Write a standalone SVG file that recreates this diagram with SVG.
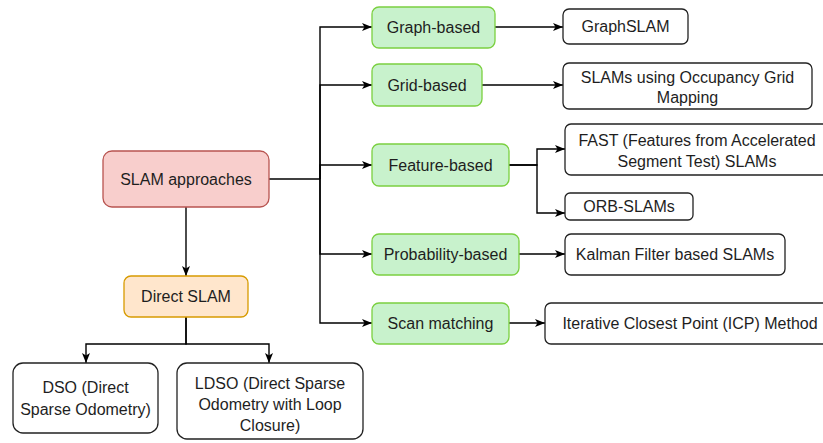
<svg xmlns="http://www.w3.org/2000/svg" width="823" height="443" viewBox="0 0 823 443">
<defs>
<marker id="arr" markerUnits="userSpaceOnUse" markerWidth="10" markerHeight="10" viewBox="0 0 10 10" refX="10" refY="5" orient="auto">
<path d="M0,1 L10,5 L0,9 L2.5,5 Z" fill="#000"/>
</marker>
</defs>
<style>
text{font-family:"Liberation Sans",Arial,Helvetica,sans-serif;font-size:16px;fill:#1e1e1e;text-anchor:middle;dominant-baseline:central}
.red{fill:#f8cecc;stroke:#b85450;stroke-width:1.3}
.org{fill:#ffe6cc;stroke:#d79b00;stroke-width:1.3}
.grn{fill:#c8f2cc;stroke:#7bd040;stroke-width:1.3}
.wht{fill:#fff;stroke:#222;stroke-width:1.3}
.c path{fill:none;stroke:#000;stroke-width:1.4;marker-end:url(#arr)}
.c path.n{marker-end:none}
</style>
<rect width="823" height="443" fill="#fff"/>
<g class="c" id="connectors">
<path class="n" d="M269,179 H320"/>
<path d="M320,179 V27 H372"/>
<path d="M320,179 V85 H372"/>
<path d="M320,179 V165 H372"/>
<path d="M320,179 V254 H372"/>
<path d="M320,179 V323 H372"/>
<path d="M495,27 H563"/>
<path d="M482,85 H563"/>
<path d="M509,165 H537 V149 H565"/>
<path d="M509,165 H537 V213 H565"/>
<path d="M519,254 H565"/>
<path d="M509,323 H545"/>
<path d="M186,207 V276"/>
<path d="M186,317 V344 H86 V363"/>
<path d="M186,317 V344 H269 V363"/>
</g>
<g id="slam"><rect class="red" x="103" y="151" width="166" height="56" rx="9"/><text x="186" y="179">SLAM approaches</text></g>
<g id="direct"><rect class="org" x="124" y="276" width="124" height="41" rx="7"/><text x="186" y="296.5">Direct SLAM</text></g>
<g id="graph"><rect class="grn" x="372" y="7" width="123" height="41" rx="7"/><text x="433.5" y="27.5">Graph-based</text></g>
<g id="grid"><rect class="grn" x="372" y="64" width="110" height="42" rx="7"/><text x="427" y="85">Grid-based</text></g>
<g id="feature"><rect class="grn" x="372" y="144" width="137" height="42" rx="7"/><text x="440.5" y="165">Feature-based</text></g>
<g id="prob"><rect class="grn" x="372" y="234" width="147" height="41" rx="7"/><text x="445.5" y="254.5">Probability-based</text></g>
<g id="scan"><rect class="grn" x="372" y="303" width="137" height="41" rx="7"/><text x="440.5" y="323.5">Scan matching</text></g>
<g id="graphslam"><rect class="wht" x="563" y="9" width="125" height="35" rx="6"/><text x="625.5" y="26.5">GraphSLAM</text></g>
<g id="occupancy"><rect class="wht" x="563" y="63" width="249" height="46" rx="6"/><text x="687.5" y="77">SLAMs using Occupancy Grid</text><text x="687.5" y="97">Mapping</text></g>
<g id="fast"><rect class="wht" x="565" y="124" width="264" height="51" rx="6"/><text x="697" y="140">FAST (Features from Accelerated</text><text x="697" y="161">Segment Test) SLAMs</text></g>
<g id="orb"><rect class="wht" x="565" y="193" width="128" height="27" rx="5"/><text x="629" y="206.5">ORB-SLAMs</text></g>
<g id="kalman"><rect class="wht" x="565" y="234" width="220" height="41" rx="6"/><text x="675" y="254.5">Kalman Filter based SLAMs</text></g>
<g id="icp"><rect class="wht" x="545" y="303" width="290" height="41" rx="6"/><text x="690" y="323.5">Iterative Closest Point (ICP) Method</text></g>
<g id="dso"><rect class="wht" x="13" y="363" width="145" height="70" rx="10"/><text x="85.5" y="387">DSO (Direct</text><text x="85.5" y="409">Sparse Odometry)</text></g>
<g id="ldso"><rect class="wht" x="177" y="363" width="186" height="76" rx="10"/><text x="270" y="383">LDSO (Direct Sparse</text><text x="270" y="404">Odometry with Loop</text><text x="270" y="425">Closure)</text></g>
</svg>
